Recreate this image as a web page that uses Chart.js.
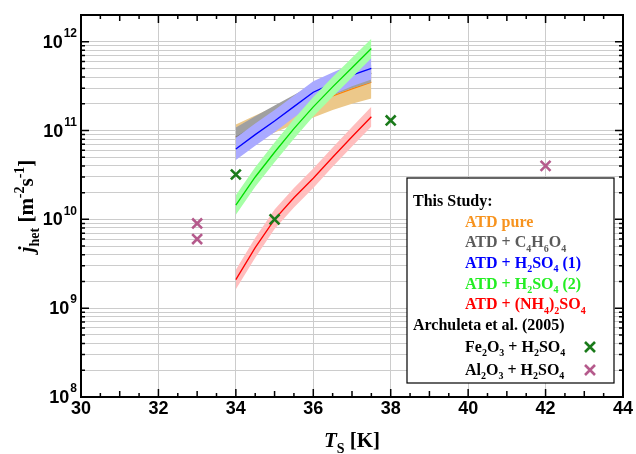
<!DOCTYPE html>
<html><head><meta charset="utf-8">
<script src="https://cdn.jsdelivr.net/npm/chart.js@4"></script>
<style>html,body{margin:0;padding:0;background:#fff}canvas{display:block}</style>
</head><body>
<canvas id="c" width="636" height="454" style="width:636px;height:454px"></canvas>
<script>
// ---- data ----
const T = [34, 34.5, 35, 35.5, 36, 36.5, 37, 37.5];
const atdPure   = [8.5e10, 1.07e11, 1.33e11, 1.65e11, 2.0e11, 2.45e11, 2.95e11, 3.5e11];
const atdPureLo = [6.2e10, 7.7e10, 9.5e10, 1.17e11, 1.4e11, 1.7e11, 2.0e11, 2.3e11];
const atdPureHi = [1.17e11, 1.48e11, 1.85e11, 2.3e11, 2.85e11, 3.5e11, 4.2e11, 4.9e11];
const atdSucc   = [8.4e10, 1.12e11, 1.48e11, 1.95e11, 2.57e11, 3.16e11, 3.76e11, 4.4e11];
const atdSuccLo = [6.7e10, 8.9e10, 1.18e11, 1.55e11, 2.04e11, 2.5e11, 3.0e11, 3.5e11];
const atdSuccHi = [1.08e11, 1.45e11, 1.92e11, 2.52e11, 3.3e11, 4.0e11, 4.7e11, 5.5e11];
const atdH2so41   = [6.2e10, 9.0e10, 1.28e11, 1.86e11, 2.7e11, 3.4e11, 4.2e11, 5.0e11];
const atdH2so41Lo = [4.65e10, 6.75e10, 9.6e10, 1.4e11, 2.0e11, 2.55e11, 3.15e11, 3.75e11];
const atdH2so41Hi = [8.3e10, 1.2e11, 1.7e11, 2.47e11, 3.6e11, 4.5e11, 5.6e11, 6.7e11];
const atdH2so42   = [1.45e10, 3.0e10, 5.7e10, 1.05e11, 1.85e11, 3.1e11, 5.1e11, 8.4e11];
const atdH2so42Lo = [1.13e10, 2.33e10, 4.4e10, 8.1e10, 1.44e11, 2.4e11, 3.95e11, 6.5e11];
const atdH2so42Hi = [1.87e10, 3.87e10, 7.35e10, 1.35e11, 2.39e11, 4.0e11, 6.6e11, 1.08e12];
const atdAmm   = [2.1e9, 4.8e9, 1.0e10, 1.75e10, 2.9e10, 5.0e10, 8.5e10, 1.43e11];
const atdAmmLo = [1.63e9, 3.7e9, 7.8e9, 1.36e10, 2.25e10, 3.9e10, 6.6e10, 1.11e11];
const atdAmmHi = [2.7e9, 6.2e9, 1.29e10, 2.26e10, 3.74e10, 6.45e10, 1.1e11, 1.85e11];
const feT = [34, 35, 38];
const feJ = [3.2e10, 1.0e10, 1.3e11];
const alT = [33, 33, 42];
const alJ = [9.0e9, 6.0e9, 4.0e10];
const xTickLabels = [30, 32, 34, 36, 38, 40, 42, 44];
const yTickExponents = [8, 9, 10, 11, 12];

// ---- helpers ----
const pts = (xs, ys) => xs.map((x, i) => ({x: x, y: ys[i]}));
const datasets = [];
let ord = 100;
function addSeries(lo, hi, mid, band, line) {
  datasets.push({data: pts(T, lo), borderWidth: 0, pointRadius: 0, fill: false, order: ord--, borderColor: 'rgba(0,0,0,0)'});
  datasets.push({data: pts(T, hi), borderWidth: 0, pointRadius: 0, fill: '-1', backgroundColor: band, order: ord--, borderColor: 'rgba(0,0,0,0)'});
  datasets.push({data: pts(T, mid), borderWidth: 1.3, pointRadius: 0, fill: false, borderColor: line, order: ord--});
}
addSeries(atdPureLo, atdPureHi, atdPure, 'rgb(236,200,138)', '#ff8000');
addSeries(atdSuccLo, atdSuccHi, atdSucc, 'rgb(160,160,160)', '#7a7a7a');
addSeries(atdH2so41Lo, atdH2so41Hi, atdH2so41, 'rgb(170,170,255)', '#0000ff');
addSeries(atdH2so42Lo, atdH2so42Hi, atdH2so42, 'rgb(166,255,166)', '#00dd00');
addSeries(atdAmmLo, atdAmmHi, atdAmm, 'rgb(255,190,190)', '#ff0000');
datasets.push({data: pts(feT, feJ), showLine: false, pointStyle: 'crossRot', pointRadius: 7, borderColor: '#1a7a1a', borderWidth: 2.6, order: 1});
datasets.push({data: pts(alT, alJ), showLine: false, pointStyle: 'crossRot', pointRadius: 7, borderColor: '#b55a8c', borderWidth: 2.6, order: 0});

function yGridValues() {
  const v = [];
  for (let e = 8; e <= 12; e++) for (let m = 1; m <= 9; m++) { const val = m * Math.pow(10, e); if (val <= 2e12 * 1.0001) v.push(val); }
  return v;
}

function rich(ctx, segs, x, y, size) {
  let cx = x;
  segs.forEach(s => {
    const mode = s[1] || 'n';
    const fs = mode === 'n' ? size : Math.round(size * 0.65);
    const style = s[2] || 'bold';
    ctx.font = style + ' ' + fs + 'px "Liberation Serif", "Times New Roman", serif';
    let dy = 0;
    if (mode === 'sub') dy = size * 0.28;
    if (mode === 'sup') dy = -size * 0.42;
    ctx.fillText(s[0], cx, y + dy);
    cx += ctx.measureText(s[0]).width;
  });
  return cx - x;
}
function richWidth(ctx, segs, size) {
  let w = 0;
  segs.forEach(s => {
    const mode = s[1] || 'n';
    const fs = mode === 'n' ? size : Math.round(size * 0.65);
    ctx.font = (s[2] || 'bold') + ' ' + fs + 'px "Liberation Serif", "Times New Roman", serif';
    w += ctx.measureText(s[0]).width;
  });
  return w;
}

const decor = {
  id: 'decor',
  afterDraw(chart) {
    const ctx = chart.ctx, a = chart.chartArea, xs = chart.scales.x, ys = chart.scales.y;
    ctx.save();
    ctx.strokeStyle = '#000'; ctx.lineWidth = 1.5;
    ctx.beginPath();
    for (let v = 30; v <= 44.001; v += 0.5) {
      const px = xs.getPixelForValue(v);
      const len = (Math.abs(v % 2) < 1e-6) ? 8 : (Math.abs(v % 1) < 1e-6 ? 6 : 4);
      ctx.moveTo(px, a.bottom); ctx.lineTo(px, a.bottom - len);
      ctx.moveTo(px, a.top); ctx.lineTo(px, a.top + len);
    }
    yGridValues().forEach(v => {
      const py = ys.getPixelForValue(v);
      const m = Math.round(v / Math.pow(10, Math.floor(Math.log10(v) + 1e-9)));
      const len = m === 1 ? 8 : 4;
      ctx.moveTo(a.left, py); ctx.lineTo(a.left + len, py);
      ctx.moveTo(a.right, py); ctx.lineTo(a.right - len, py);
    });
    ctx.stroke();
    ctx.lineWidth = 2;
    ctx.strokeRect(a.left, a.top, a.right - a.left, a.bottom - a.top);

    ctx.fillStyle = '#000';
    ctx.textBaseline = 'middle';
    ctx.textAlign = 'center';
    ctx.font = 'bold 18px "Liberation Sans", Arial, sans-serif';
    xTickLabels.forEach(v => {
      ctx.fillText(String(v), xs.getPixelForValue(v), a.bottom + 12);
    });
    yTickExponents.forEach(e => {
      const py = ys.getPixelForValue(Math.pow(10, e));
      ctx.font = 'bold 12px "Liberation Sans", Arial, sans-serif';
      const ew = ctx.measureText(String(e)).width;
      ctx.textAlign = 'right';
      ctx.fillText(String(e), a.left - 4, py - 8);
      ctx.font = 'bold 18px "Liberation Sans", Arial, sans-serif';
      ctx.fillText('10', a.left - 5 - ew, py + 1);
    });

    ctx.textAlign = 'left';
    ctx.textBaseline = 'alphabetic';
    const xt = [['T', 'n', 'italic bold'], ['S', 'sub'], [' [K]', 'n']];
    const xw = richWidth(ctx, xt, 21);
    rich(ctx, xt, (a.left + a.right) / 2 - xw / 2, 447, 21);

    const yt = [['j', 'n', 'italic bold'], ['het', 'sub'], [' [m', 'n'], ['-2', 'sup'], ['s', 'n'], ['-1', 'sup'], [']', 'n']];
    const yw = richWidth(ctx, yt, 21);
    ctx.save();
    ctx.translate(33, (a.top + a.bottom) / 2 + yw / 2);
    ctx.rotate(-Math.PI / 2);
    rich(ctx, yt, 0, 0, 21);
    ctx.restore();

    const bx = 407, by = 178, bw = 207, bh = 205;
    ctx.fillStyle = '#fff';
    ctx.fillRect(bx, by, bw, bh);
    ctx.strokeStyle = '#000'; ctx.lineWidth = 1.2;
    ctx.strokeRect(bx, by, bw, bh);
    const fs = 16;
    ctx.fillStyle = '#000';
    rich(ctx, [['This Study:', 'n']], 413, 206, fs);
    const ent = [
      ['#f7931e', [['ATD pure', 'n']]],
      ['#5a5a5a', [['ATD + C', 'n'], ['4', 'sub'], ['H', 'n'], ['6', 'sub'], ['O', 'n'], ['4', 'sub']]],
      ['#0000ff', [['ATD + H', 'n'], ['2', 'sub'], ['SO', 'n'], ['4', 'sub'], [' (1)', 'n']]],
      ['#22ee22', [['ATD + H', 'n'], ['2', 'sub'], ['SO', 'n'], ['4', 'sub'], [' (2)', 'n']]],
      ['#ff0000', [['ATD + (NH', 'n'], ['4', 'sub'], [')', 'n'], ['2', 'sub'], ['SO', 'n'], ['4', 'sub']]]
    ];
    ent.forEach((e, i) => {
      ctx.fillStyle = e[0];
      rich(ctx, e[1], 465, 226.5 + i * 20.7, fs);
    });
    ctx.fillStyle = '#000';
    rich(ctx, [['Archuleta et al. (2005)', 'n']], 413, 330, fs);
    rich(ctx, [['Fe', 'n'], ['2', 'sub'], ['O', 'n'], ['3', 'sub'], [' + H', 'n'], ['2', 'sub'], ['SO', 'n'], ['4', 'sub']], 465, 352, fs);
    rich(ctx, [['Al', 'n'], ['2', 'sub'], ['O', 'n'], ['3', 'sub'], [' + H', 'n'], ['2', 'sub'], ['SO', 'n'], ['4', 'sub']], 465, 375, fs);
    const mark = (cx, cy, col) => {
      ctx.strokeStyle = col; ctx.lineWidth = 2.6;
      ctx.beginPath();
      ctx.moveTo(cx - 5, cy - 5); ctx.lineTo(cx + 5, cy + 5);
      ctx.moveTo(cx + 5, cy - 5); ctx.lineTo(cx - 5, cy + 5);
      ctx.stroke();
    };
    mark(590, 347, '#1a7a1a');
    mark(590, 370, '#b55a8c');
    ctx.restore();
  }
};

new Chart(document.getElementById('c'), {
  type: 'line',
  data: {datasets: datasets},
  options: {
    responsive: false,
    animation: false,
    layout: {padding: {top: 15, right: 13, left: 0, bottom: 0}},
    plugins: {legend: {display: false}, tooltip: {enabled: false}},
    elements: {line: {tension: 0}},
    scales: {
      x: {
        type: 'linear', min: 30, max: 44,
        ticks: {display: false, stepSize: 2},
        grid: {color: '#cccccc', lineWidth: 1, drawTicks: false},
        border: {display: false},
        afterFit(s) { s.height = 57; }
      },
      y: {
        type: 'logarithmic', min: 1e8, max: 2e12,
        ticks: {display: false},
        afterBuildTicks(s) { s.ticks = yGridValues().map(v => ({value: v})); },
        grid: {color: '#cccccc', lineWidth: 1, drawTicks: false},
        border: {display: false},
        afterFit(s) { s.width = 81; }
      }
    }
  },
  plugins: [decor]
});
</script>
</body></html>
